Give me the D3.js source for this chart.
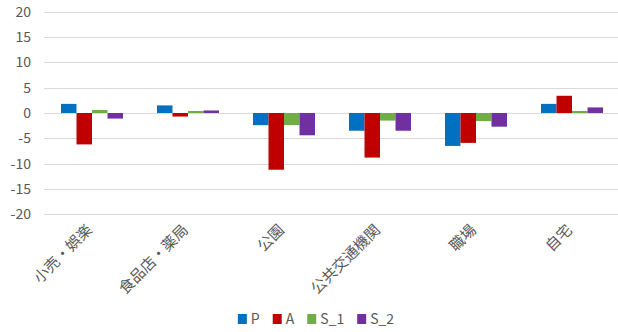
<!DOCTYPE html>
<html>
<head>
<meta charset="utf-8">
<script src="https://cdnjs.cloudflare.com/ajax/libs/d3/7.8.5/d3.min.js"></script>
<style>
body{margin:0;background:#fff}
svg{display:block;font-family:"Noto Sans CJK JP","Noto Sans",sans-serif}
</style>
</head>
<body>
<svg id="graph"></svg>
<script>
// categories and series
var categories = ["小売・娯楽","食品店・薬局","公園","公共交通機関","職場","自宅"]
var seriesNames = ["P","A","S_1","S_2"]
var colors = ["#0070C0","#C00000","#70AD47","#7030A0"]

var P   = [1.8, 1.5, -2.4, -3.5, -6.5, 1.8]
var A   = [-6.2, -0.7, -11.2, -8.8, -5.9, 3.4]
var S_1 = [0.6, 0.4, -2.4, -1.5, -1.6, 0.4]
var S_2 = [-1.1, 0.5, -4.4, -3.5, -2.7, 1.1]

var yTicks = [20,15,10,5,0,-5,-10,-15,-20]

var seriesData = [P, A, S_1, S_2]

function initVisual(){
    const svg = d3.select("#graph")
        .attr("width", 618)
        .attr("height", 332)

    const x0 = d3.scaleBand().domain(categories).range([44, 620])
    const bw = x0.bandwidth()
    const x1 = d3.scaleBand().domain(seriesNames).range([bw*0.177, bw*0.823])
    const y = d3.scaleLinear().domain([-20, 20]).range([214.3, 11.7])

    // gridlines
    svg.append("g").selectAll("line").data(yTicks).enter().append("line")
        .attr("x1", 44).attr("x2", 618)
        .attr("y1", d => Math.round(y(d))+0.5)
        .attr("y2", d => Math.round(y(d))+0.5)
        .attr("stroke", "#d9d9d9")
        .attr("stroke-width", 1)

    // y labels
    svg.append("g").selectAll("text").data(yTicks).enter().append("text")
        .attr("x", 31)
        .attr("y", d => y(d))
        .attr("dy", "0.35em")
        .attr("text-anchor", "end")
        .attr("font-size", "14px")
        .attr("fill", "#595959")
        .text(d => d)

    // bars
    seriesData.forEach(function(vals, s){
        svg.append("g").selectAll("rect").data(vals).enter().append("rect")
            .attr("x", (d,i) => x0(categories[i]) + x1(seriesNames[s]))
            .attr("width", x1.bandwidth())
            .attr("y", d => y(Math.max(0, d)))
            .attr("height", d => Math.abs(y(d) - y(0)))
            .attr("fill", colors[s])
    })

    // category labels
    svg.append("g").selectAll("text").data(categories).enter().append("text")
        .attr("transform", d => "translate(" + (x0(d) + bw/2 + 1) + ",231) rotate(-45)")
        .attr("text-anchor", "end")
        .attr("font-size", "15px")
        .attr("fill", "#595959")
        .text(d => d)

    // legend
    const lg = svg.append("g")
    let xpos = 0
    seriesNames.forEach(function(n, i){
        const g = lg.append("g").attr("transform", "translate(" + xpos + ",0)")
        g.append("rect").attr("x", 0).attr("y", 314).attr("width", 9).attr("height", 10).attr("fill", colors[i])
        const t = g.append("text").attr("x", 13).attr("y", 324)
            .attr("font-size", "14px").attr("fill", "#595959").text(n)
        xpos += 13 + t.node().getComputedTextLength() + 13
    })
    const total = xpos - 13
    lg.attr("transform", "translate(" + (316 - total/2) + ",0)")
}

window.onload = function(){
    initVisual()
}
</script>
</body>
</html>
